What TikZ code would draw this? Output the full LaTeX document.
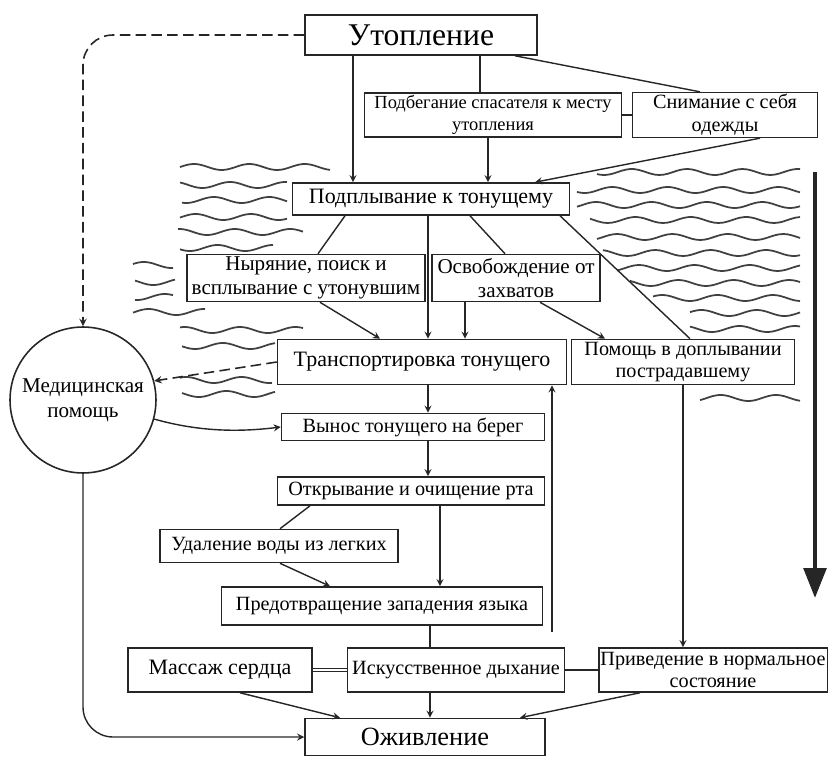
\documentclass[tikz,border=0pt]{standalone}
\usepackage{fontspec}
\setmainfont{Liberation Serif}
\usetikzlibrary{arrows.meta}
\begin{document}
\begin{tikzpicture}[x=0.02cm, y=-0.02cm, >=stealth, line width=0.8pt, draw=black!85,
        box/.style={draw, rectangle, line width=0.9pt, align=center, inner sep=1pt, font=\fontsize{11.5}{13}\selectfont},
        wave/.style={line width=1pt, black!75},
        dashline/.style={line width=0.9pt, dash pattern=on 6pt off 3pt}]
        \useasboundingbox (0,0) rectangle (828,760);
        \node[box, minimum width=4.64cm, minimum height=0.8cm, font=\fontsize{18}{20}\selectfont] (utop) at (421,35) {Утопление};
        \node[box, minimum width=5.14cm, minimum height=0.88cm, font=\fontsize{10.5}{12.5}\selectfont] (podbeg) at (493,115) {Подбегание спасателя к месту\\утопления};
        \node[box, minimum width=3.7cm, minimum height=0.88cm] (snim) at (725,115) {Снимание с себя\\одежды};
        \node[box, minimum width=5.54cm, minimum height=0.64cm, font=\fontsize{12.5}{14}\selectfont] (podpl) at (431,199) {Подплывание к тонущему};
        \node[box, minimum width=4.76cm, minimum height=0.94cm, font=\fontsize{12}{14}\selectfont] (nyr) at (306,278) {Ныряние, поиск и\\всплывание с утонувшим};
        \node[box, minimum width=3.36cm, minimum height=0.94cm, font=\fontsize{12}{14}\selectfont] (osv) at (516,278) {Освобождение от\\захватов};
        \node[box, minimum width=5.78cm, minimum height=0.9cm, font=\fontsize{12.5}{14}\selectfont] (transp) at (422,362) {Транспортировка тонущего};
        \node[box, minimum width=4.46cm, minimum height=0.9cm] (pomosh) at (683,362) {Помощь в доплывании\\пострадавшему};
        \node[draw, circle, line width=0.9pt, minimum size=2.92cm, inner sep=0pt, align=center, font=\fontsize{12}{14}\selectfont] (med) at (83,400) {Медицинская\\помощь};
        \node[box, minimum width=5.26cm, minimum height=0.54cm] (vynos) at (413,427) {Вынос тонущего на берег};
        \node[box, minimum width=5.34cm, minimum height=0.56cm] (otkr) at (411,491) {Открывание и очищение рта};
        \node[box, minimum width=4.76cm, minimum height=0.66cm] (udal) at (279,546) {Удаление воды из легких};
        \node[box, minimum width=6.42cm, minimum height=0.76cm] (predot) at (382,606) {Предотвращение западения языка};
        \node[box, minimum width=3.68cm, minimum height=0.88cm, font=\fontsize{12.5}{14}\selectfont] (massazh) at (220,670) {Массаж сердца};
        \node[box, minimum width=4.34cm, minimum height=0.88cm] (iskus) at (456,670) {Искусственное дыхание};
        \node[box, minimum width=4.5cm, minimum height=0.88cm] (priv) at (713,670) {Приведение в нормальное\\состояние};
        \node[box, minimum width=4.8cm, minimum height=0.74cm, font=\fontsize{15}{17}\selectfont] (ozhiv) at (425,737) {Оживление};
        \coordinate (up) at (552,632);
        \coordinate (bigtop) at (815,172);
        \coordinate (bigbot) at (815,598);
        \foreach \a/\b/\c in {180/330/167, 180/287/185, 182/287/200, 180/287/217, 178/303/232, 180/273/248,
                133/173/265, 135/175/282, 135/173/297, 133/205/312,
                180/303/330, 182/275/346, 180/272/380, 182/275/394,
                597/800/172, 577/800/190, 577/800/205, 590/800/220, 597/800/237, 603/800/253,
                617/800/268, 630/800/283, 653/800/298, 690/800/313, 690/800/329, 700/800/398}
            \draw[wave] plot[domain=\a:\b, samples=50, smooth] (\x, {\c+3*sin(6.5*\x+\c*7)});
        \draw[->, dashline, rounded corners=0.6cm] (utop.west) -| (med.north);
        \draw[->] (353,0 |- utop.south) -- (353,0 |- podpl.north);
        \draw (480,0 |- utop.south) -- (480,0 |- podbeg.north);
        \draw (515,0 |- utop.south) -- (700,0 |- snim.north);
        \draw (podbeg.east) -- (snim.west);
        \draw[->] (488,0 |- podbeg.south) -- (488,0 |- podpl.north);
        \draw[->] (760,0 |- snim.south) -- (535,0 |- podpl.north);
        \draw (345,0 |- podpl.south) -- (318,0 |- nyr.north);
        \draw[->] (428,0 |- podpl.south) -- (428,0 |- transp.north);
        \draw (470,0 |- podpl.south) -- (505,0 |- osv.north);
        \draw (560,0 |- podpl.south) -- (690,0 |- pomosh.north);
        \draw[->] (320,0 |- nyr.south) -- (380,0 |- transp.north);
        \draw[->] (465,0 |- osv.south) -- (465,0 |- transp.north);
        \draw[->] (540,0 |- osv.south) -- (605,0 |- pomosh.north);
        \draw[->, dashline] (transp.west) -- (med.15);
        \draw[->] (428,0 |- transp.south) -- (428,0 |- vynos.north);
        \draw[->] (med.-15) .. controls (200,432) and (240,432) .. (vynos.west);
        \draw[->] (428,0 |- vynos.south) -- (428,0 |- otkr.north);
        \draw (310,0 |- otkr.south) -- (280,0 |- udal.north);
        \draw[->] (440,0 |- otkr.south) -- (440,0 |- predot.north);
        \draw[->] (280,0 |- udal.south) -- (330,0 |- predot.north);
        \draw (430,0 |- predot.south) -- (430,0 |- iskus.north);
        \draw[->] (up) -- (552,0 |- transp.south);
        \draw[double] (massazh) -- (iskus);
        \draw (iskus) -- (priv);
        \draw[->] (683,0 |- pomosh.south) -- (683,0 |- priv.north);
        \draw[->] (240,0 |- massazh.south) -- (340,0 |- ozhiv.north);
        \draw[->] (430,0 |- iskus.south) -- (430,0 |- ozhiv.north);
        \draw[->] (640,0 |- priv.south) -- (520,0 |- ozhiv.north);
        \draw[->, rounded corners=0.6cm] (med.south) |- (ozhiv.west);
        \draw[-{Triangle[length=0.6cm, width=0.45cm]}, line width=2.5pt] (bigtop) -- (bigbot);
    \end{tikzpicture}
\end{document}
